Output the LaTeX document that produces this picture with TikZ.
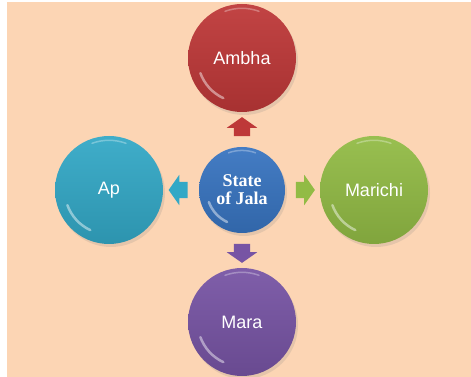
\documentclass[tikz,border=0pt]{standalone}
\usepackage{fontspec}
\setmainfont{Liberation Serif}
\setsansfont{Liberation Sans}
\usetikzlibrary{shapes,arrows,positioning,calc,shadows}

\definecolor{peach}{HTML}{FCD5B4}
\definecolor{jalaBlue}{HTML}{3874C0}
\definecolor{ambhaRed}{HTML}{BE3838}
\definecolor{apCyan}{HTML}{33A8C6}
\definecolor{marichiGreen}{HTML}{92BB45}
\definecolor{maraPurple}{HTML}{7754A4}

\begin{document}
\begin{tikzpicture}
    [x=1pt, y=1pt,
    sphere/.style 2 args={
        circle,
        minimum size=#1,
        inner sep=0pt,
        outer sep=0pt,
        top color=#2!94!white,
        bottom color=#2!88!black,
        text=white,
        drop shadow={opacity=0.18, shadow xshift=2pt, shadow yshift=-3pt},
        path picture={
            \draw[white, opacity=0.45, line width=2.5pt, line cap=round]
                ([shift={(200:0.41*#1)}]path picture bounding box.center) arc (200:245:0.41*#1);
            \draw[white, opacity=0.3, line width=1.5pt, line cap=round]
                ([shift={(70:0.46*#1)}]path picture bounding box.center) arc (70:110:0.46*#1);
        }
    },
    sphere/.default={108pt}{jalaBlue},
    outer label/.style={font=\sffamily\fontsize{18}{22}\selectfont},
    block arrow/.style 2 args={
        single arrow,
        draw=none,
        minimum height=19pt,
        inner xsep=0pt,
        inner ysep=8pt,
        single arrow head extend=7pt,
        single arrow tip angle=110,
        rotate=#1,
        fill=#2
    }]

    %%% background
    \useasboundingbox (0,0) rectangle (471,377);
    \fill[peach] (7,0) rectangle (471,375);

    %%% content
    \node (stateJala) [sphere={86pt}{jalaBlue}, align=center,
        font=\rmfamily\bfseries\fontsize{18}{18}\selectfont] at (242,187) {State\\of Jala};

    \node (ambha) [sphere={108pt}{ambhaRed}, outer label, above=35pt of stateJala] {Ambha};
    \node (mara) [sphere={108pt}{maraPurple}, outer label, below=35pt of stateJala] {Mara};
    \node (ap) [sphere={108pt}{apCyan}, outer label, left=36pt of stateJala] {Ap};
    \node (marichi) [sphere={108pt}{marichiGreen}, outer label, right=35pt of stateJala] {Marichi};

    %% arrows
    \node (toAmbha) [block arrow={90}{ambhaRed}] at ($(stateJala.north)!0.5!(ambha.south)$) {};
    \node (toMara) [block arrow={270}{maraPurple}] at ($(stateJala.south)!0.5!(mara.north)$) {};
    \node (toAp) [block arrow={180}{apCyan}] at ($(stateJala.west)!0.5!(ap.east)$) {};
    \node (toMarichi) [block arrow={0}{marichiGreen}] at ($(stateJala.east)!0.5!(marichi.west)$) {};
\end{tikzpicture}
\end{document}
